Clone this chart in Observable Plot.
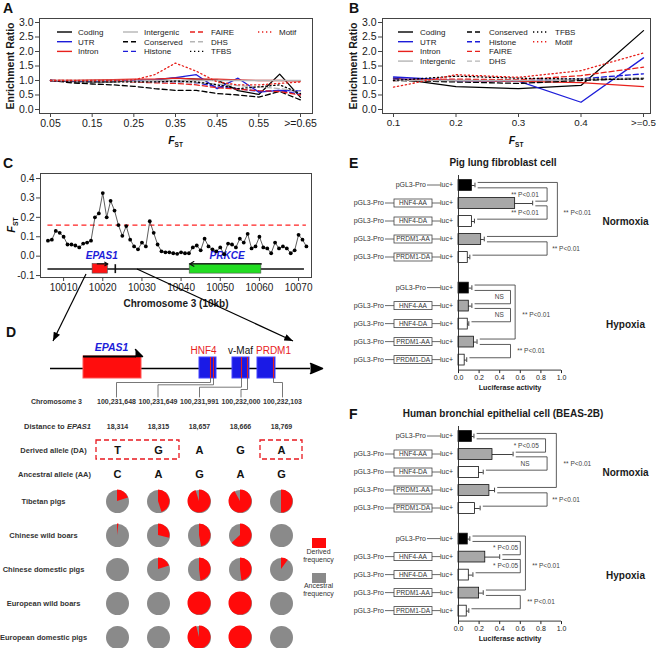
<!DOCTYPE html>
<html>
<head>
<meta charset="utf-8">
<script src="https://cdn.jsdelivr.net/npm/d3@7"></script>
<script src="https://cdn.jsdelivr.net/npm/@observablehq/plot@0.6"></script>
<style>
html,body{margin:0;padding:0;background:#fff;}
#root{position:relative;width:656px;height:648px;overflow:hidden;background:#fff;font-family:"Liberation Sans",Arial,sans-serif;}
.letter{position:absolute;font:bold 14px "Liberation Sans",Arial,sans-serif;color:#111;line-height:1;}
</style>
</head>
<body>
<div id="root"></div>
<script>
// ====================== DATA ======================
// Panels A and B: enrichment ratios by F_ST bin
const seriesNames = ["Coding","UTR","Intron","Intergenic","Conserved","Histone","FAIRE","DHS","TFBS","Motif"];

const fstBinsA = [0.05,0.10,0.15,0.20,0.25,0.30,0.35,0.40,0.45,0.50,0.55,0.60,0.65];
const fstTicksA = [0.05,0.15,0.25,0.35,0.45,0.55,0.65];
const fstTickLabelsA = ["0.05","0.15","0.25","0.35","0.45","0.55",">=0.65"];
const aCoding     = [1.00,0.97,0.95,0.95,1.00,1.03,1.08,1.05,1.02,0.65,0.52,1.22,0.42];
const aUTR        = [1.00,0.98,0.98,1.00,1.00,1.03,1.10,1.20,0.72,1.08,0.60,0.66,0.64];
const aIntron     = [1.00,1.00,1.02,1.03,1.05,1.05,1.08,1.05,1.05,1.02,1.00,1.00,0.98];
const aIntergenic = [1.00,1.00,1.00,1.00,1.00,1.00,1.00,1.00,1.00,1.00,1.00,1.00,1.00];
const aConserved  = [1.00,0.92,0.88,0.85,0.80,0.72,0.66,0.66,0.55,0.50,0.43,0.62,0.33];
const aHistone    = [1.00,0.98,0.97,1.00,0.98,0.95,0.95,0.92,0.78,0.72,0.62,0.66,0.52];
const aFAIRE      = [1.00,1.00,0.98,0.98,0.95,0.92,0.90,0.85,0.75,0.70,0.65,0.62,0.50];
const aDHS        = [1.00,0.98,0.98,0.98,0.97,0.95,0.95,0.92,0.88,0.82,0.78,0.72,0.62];
const aTFBS       = [1.00,0.95,0.95,0.95,0.95,0.95,0.98,0.95,0.85,0.72,0.78,0.85,0.55];
const aMotif      = [1.00,1.00,1.00,1.00,1.02,1.20,1.60,1.32,0.95,0.85,0.85,0.90,0.95];

const fstBinsB = [0.1,0.2,0.3,0.4,0.5];
const fstTicksB = [0.1,0.2,0.3,0.4,0.5];
const fstTickLabelsB = ["0.1","0.2","0.3","0.4",">=0.5"];
const bCoding     = [1.08,0.79,0.72,0.83,2.72];
const bUTR        = [1.12,1.00,0.98,0.25,1.78];
const bIntron     = [1.05,1.00,0.97,0.93,0.79];
const bIntergenic = [1.02,1.00,1.00,1.02,1.05];
const bConserved  = [1.00,0.95,0.90,1.00,1.08];
const bHistone    = [1.05,1.00,1.00,1.06,1.23];
const bFAIRE      = [1.00,1.05,1.02,1.17,1.46];
const bDHS        = [1.00,1.00,1.00,1.05,1.10];
const bTFBS       = [1.00,1.15,1.08,1.05,1.05];
const bMotif      = [0.77,1.20,1.11,1.34,1.95];

// Panel C: F_ST along chromosome 3 (10 kb windows)
const windowPos = [10006,10007,10008,10009,10010,10011,10012,10013,10014,10015,10016,10017,10018,10019,10020,10021,10022,10023,10024,10025,10026,10027,10028,10029,10030,10031,10032,10033,10034,10035,10036,10037,10038,10039,10040,10041,10042,10043,10044,10045,10046,10047,10048,10049,10050,10051,10052,10053,10054,10055,10056,10057,10058,10059,10060,10061,10062,10063,10064,10065,10066,10067,10068,10069,10070,10071,10072];
const windowFst = [0.080,0.085,0.130,0.120,0.100,0.060,0.060,0.055,0.045,0.065,0.070,0.080,0.200,0.220,0.325,0.200,0.285,0.235,0.160,0.105,0.155,0.085,0.050,0.035,0.070,0.050,0.180,0.120,0.060,0.025,0.020,0.020,0.015,0.012,0.020,0.015,0.015,0.045,0.055,0.030,0.090,0.050,0.035,0.025,0.045,0.010,0.065,0.060,0.045,0.090,0.070,0.115,0.040,0.050,0.100,0.045,0.040,0.015,0.070,0.040,0.050,0.040,0.015,0.030,0.110,0.085,0.050];
const fstThreshold = 0.16;
const chrTicks = [10010,10020,10030,10040,10050,10060,10070];
const geneNames = ["EPAS1","PRKCE"];
const geneStart = [10017.4,10042.2];
const geneEnd = [10021.3,10060.5];
const geneStrand = [1,-1];
const extraExon = [10023.2];

// Panel D: SNPs
const snpPositions = ["100,231,648","100,231,649","100,231,991","100,232,000","100,232,103"];
const distToEPAS1 = ["18,314","18,315","18,657","18,666","18,769"];
const derivedAllele = ["T","G","A","G","A"];
const ancestralAllele = ["C","A","G","A","G"];
const motifNames = ["HNF4","v-Maf","PRDM1"];
const populations = ["Tibetan pigs","Chinese wild boars","Chinese domestic pigs","European wild boars","European domestic pigs"];
const freqTibetan          = [0.20,0.45,0.95,0.92,0.50];
const freqChineseWild      = [0.02,0.29,0.47,0.63,0.00];
const freqChineseDomestic  = [0.00,0.20,0.48,0.48,0.10];
const freqEuropeanWild     = [0.00,0.00,1.00,1.00,0.00];
const freqEuropeanDomestic = [0.00,0.00,0.96,1.00,0.00];
const boxedSnpGroups = [[0,1],[4]];

// Panels E and F: luciferase activity
const constructs = ["pGL3-Pro","HNF4-AA","HNF4-DA","PRDM1-AA","PRDM1-DA"];
const pigNormMean = [0.13,0.55,0.13,0.22,0.09];
const pigNormErr  = [0.03,0.17,0.025,0.03,0.02];
const pigHypMean  = [0.10,0.10,0.09,0.15,0.06];
const pigHypErr   = [0.03,0.03,0.01,0.03,0.02];
const beasNormMean = [0.13,0.33,0.20,0.30,0.16];
const beasNormErr  = [0.02,0.20,0.04,0.05,0.05];
const beasHypMean  = [0.09,0.26,0.10,0.20,0.08];
const beasHypErr   = [0.02,0.14,0.04,0.04,0.02];
// brackets: rows compared (0-4 normoxia, 5-9 hypoxia), bracket x, label, label x, anchor
const pigBracketRows = [[0,1],[1,2],[0,3],[3,4],[5,6],[6,7],[5,8],[8,9]];
const pigBracketX = [0.86,0.86,0.96,0.86,0.505,0.505,0.55,0.505];
const pigBracketLabels = ["** P<0.01","** P<0.01","** P<0.01","** P<0.01","NS","NS","** P<0.01","** P<0.01"];
const pigLabelX = [0.78,0.78,1.02,0.91,0.44,0.44,0.62,0.57];
const pigLabelAnchor = ["end","end","start","start","end","end","start","start"];
const beasBracketRows = [[0,1],[1,2],[0,3],[3,4],[5,6],[6,7],[5,8],[8,9]];
const beasBracketX = [0.845,0.86,0.95,0.86,0.60,0.60,0.65,0.60];
const beasBracketLabels = ["* P<0.05","NS","** P<0.01","** P<0.01","* P<0.05","* P<0.05","** P<0.01","** P<0.01"];
const beasLabelX = [0.78,0.69,1.02,0.91,0.58,0.58,0.715,0.667];
const beasLabelAnchor = ["end","end","start","start","end","end","start","start"];

// ====================== STYLES / HELPERS ======================
const FONT = "Liberation Sans, Arial, sans-serif";
const baseStyle = {fontFamily: FONT, background: "transparent", overflow: "visible", color: "#1a1a1a"};
const RED = "#e8211c", BLUE = "#1c1cd9", GRAY = "#b5b5b5";
const lineStyles = {
  Coding: {stroke: "#000", dash: null}, UTR: {stroke: BLUE, dash: null},
  Intron: {stroke: RED, dash: null}, Intergenic: {stroke: GRAY, dash: null},
  Conserved: {stroke: "#000", dash: "5,3"}, Histone: {stroke: BLUE, dash: "5,3"},
  FAIRE: {stroke: RED, dash: "5,3"}, DHS: {stroke: GRAY, dash: "5,3"},
  TFBS: {stroke: "#000", dash: "1.3,2.7"}, Motif: {stroke: RED, dash: "1.3,2.7"}
};
const root = document.getElementById("root");
function place(node, left, top) {
  node.style.position = "absolute"; node.style.left = left + "px"; node.style.top = top + "px";
  root.appendChild(node);
}
function letter(ch, left, top) {
  const d = document.createElement("div"); d.className = "letter"; d.textContent = ch;
  d.style.left = left + "px"; d.style.top = top + "px"; root.appendChild(d);
}
function fstText(g, x, y, size, rotate) {
  const t = g.append("text")
    .attr("transform", `translate(${x},${y})` + (rotate ? " rotate(-90)" : ""))
    .attr("text-anchor", "middle").attr("font-weight", "bold").attr("font-size", size)
    .attr("font-family", FONT).attr("fill", "#111").attr("dy", "0.3em");
  t.append("tspan").attr("font-style", "italic").text("F");
  t.append("tspan").attr("font-size", size * 0.62).attr("dy", size * 0.28).text("ST");
}

// ====================== PANELS A & B ======================
function enrichmentPlot({bins, ticks, tickLabels, values, xDomain, width, marginLeft, marginRight, perCol, colX, textGap, xTickSize}) {
  const marks = [];
  seriesNames.forEach((name, k) => {
    const st = lineStyles[name];
    marks.push(Plot.line(bins.map((b, j) => ({x: b, y: values[k][j]})),
      {x: "x", y: "y", stroke: st.stroke, strokeWidth: 1.3, strokeDasharray: st.dash || undefined}));
  });
  marks.push(Plot.frame({stroke: "#444", strokeWidth: 1}));
  marks.push(Plot.axisX(ticks, {tickFormat: d => tickLabels[ticks.indexOf(d)], tickSize: 4, tickPadding: 2, fontSize: xTickSize, label: null, stroke: "#444"}));
  marks.push(Plot.axisY([0, 0.5, 1, 1.5, 2, 2.5, 3], {tickFormat: d => d.toFixed(1), tickSize: 4, tickPadding: 2, fontSize: 10.5, label: null, stroke: "#444"}));
  marks.push(Plot.text(["Enrichment Ratio"], {text: d => d, frameAnchor: "left", textAnchor: "middle", lineAnchor: "middle", rotate: -90, dx: -29, fontWeight: "bold", fontSize: 10.5}));
  marks.push((index, scales, vals, dims) => {
    const g = d3.create("svg:g");
    fstText(g, (dims.marginLeft + dims.width - dims.marginRight) / 2, dims.height - dims.marginBottom + 28, 10.5, false);
    return g.node();
  });
  marks.push((index, scales, vals, dims) => {
    const g = d3.create("svg:g").attr("font-size", 8).attr("font-family", FONT).attr("fill", "#1a1a1a").attr("text-anchor", "start");
    seriesNames.forEach((n, i) => {
      const c = Math.floor(i / perCol), r = i % perCol;
      const x = dims.marginLeft + colX[c], y = dims.marginTop + 14 + r * 9.7;
      const st = lineStyles[n];
      const ln = g.append("line").attr("x1", x).attr("x2", x + 15).attr("y1", y).attr("y2", y)
        .attr("stroke", st.stroke).attr("stroke-width", 1.4);
      if (st.dash) ln.attr("stroke-dasharray", st.dash);
      g.append("text").attr("x", x + textGap).attr("y", y).attr("dy", "0.35em").attr("text-anchor", "start").text(n);
    });
    return g.node();
  });
  return Plot.plot({
    width, height: 145, marginLeft, marginRight, marginTop: 18, marginBottom: 32,
    x: {domain: xDomain, axis: null, label: null},
    y: {domain: [-0.138, 3.138], axis: null, label: null},
    style: baseStyle, marks
  });
}
const valuesA = [aCoding, aUTR, aIntron, aIntergenic, aConserved, aHistone, aFAIRE, aDHS, aTFBS, aMotif];
const valuesB = [bCoding, bUTR, bIntron, bIntergenic, bConserved, bHistone, bFAIRE, bDHS, bTFBS, bMotif];
place(enrichmentPlot({bins: fstBinsA, ticks: fstTicksA, tickLabels: fstTickLabelsA, values: valuesA, xTickSize: 10.5,
  xDomain: [0.0236, 0.6788], width: 325, marginLeft: 39, marginRight: 13, perCol: 3, colX: [18, 84, 151, 219], textGap: 21}), 0, 0);
place(enrichmentPlot({bins: fstBinsB, ticks: fstTicksB, tickLabels: fstTickLabelsB, values: valuesB, xTickSize: 9.8,
  xDomain: [0.0824, 0.5112], width: 331, marginLeft: 57, marginRight: 6, perCol: 4, colX: [16, 85, 151], textGap: 22}), 325, 0);

// ====================== PANEL C ======================
{
  const windows = windowPos.map((p, i) => ({pos: p, fst: windowFst[i]}));
  const genes = geneNames.map((n, i) => ({name: n, start: geneStart[i], end: geneEnd[i], strand: geneStrand[i]}));
  const geneFill = {EPAS1: "#ff1414", PRKCE: "#22dd22"};
  const trackY = -0.066, boxTop = -0.040, boxBottom = -0.090;
  const plotC = Plot.plot({
    width: 325, height: 170, marginLeft: 40, marginRight: 14, marginTop: 33, marginBottom: 33,
    x: {domain: [10004.1, 10073.3], axis: null, label: null},
    y: {domain: [-0.110, 0.426], axis: null, label: null},
    color: {type: "identity"},
    style: baseStyle,
    marks: [
      Plot.frame({stroke: "#444"}),
      Plot.ruleY([fstThreshold], {y: d => d, x1: windowPos[0], x2: windowPos[windowPos.length - 1], stroke: "#f22", strokeWidth: 1.3, strokeDasharray: "5,3.5"}),
      Plot.ruleY([trackY], {y: d => d, x1: windowPos[0], x2: windowPos[windowPos.length - 2] + 0.5, stroke: "#111", strokeWidth: 1.4}),
      Plot.rect(genes, {x1: "start", x2: "end", y1: boxBottom, y2: boxTop, fill: d => geneFill[d.name], stroke: "#555", strokeWidth: 0.6}),
      Plot.ruleX(extraExon, {x: d => d, y1: boxBottom, y2: boxTop - 0.004, stroke: "#111", strokeWidth: 1.6}),
      Plot.arrow(genes, {x1: d => d.strand > 0 ? d.start + 1.2 : d.end, x2: d => d.strand > 0 ? d.end : d.start,
        y1: boxTop, y2: boxTop, stroke: "#111", strokeWidth: 1.2, headLength: 6}),
      Plot.text(genes, {x: d => (d.start + d.end) / 2 + 0.4, y: 0.004, text: "name", fill: BLUE, fontWeight: "bold", fontStyle: "italic", fontSize: 10}),
      Plot.line(windows, {x: "pos", y: "fst", stroke: "#333", strokeWidth: 0.8}),
      Plot.dot(windows, {x: "pos", y: "fst", r: 1.9, fill: "#000"}),
      Plot.axisX(chrTicks, {tickFormat: d => String(d), tickSize: 4, tickPadding: 2, fontSize: 10, label: null, stroke: "#444"}),
      Plot.axisY([-0.1, 0, 0.1, 0.2, 0.3, 0.4], {tickFormat: d => d.toFixed(1), tickSize: 4, tickPadding: 2, fontSize: 10, label: null, stroke: "#444"}),
      Plot.text(["Chromosome 3 (10kb)"], {text: d => d, frameAnchor: "bottom", textAnchor: "middle", lineAnchor: "middle", dy: 26, fontWeight: "bold", fontSize: 10}),
      (index, scales, vals, dims) => {
        const g = d3.create("svg:g");
        fstText(g, dims.marginLeft - 28, (dims.marginTop + dims.height - dims.marginBottom) / 2, 11, true);
        return g.node();
      }
    ]
  });
  place(plotC, 0, 140);
}

// ====================== PANEL D: schematic ======================
{
  // schematic (not-to-scale) geometry of the EPAS1 upstream region
  const mainLine = {x1: 50, x2: 310, tip: 322, y: 63};
  const epasBox = {x1: 83, x2: 141, y1: 51, y2: 73};
  const motifBoxes = [{name: "HNF4", x1: 199, x2: 216, lx: 203}, {name: "v-Maf", x1: 232, x2: 249, lx: 240}, {name: "PRDM1", x1: 257, x2: 275, lx: 273}];
  const motifColor = {"HNF4": "#e8211c", "v-Maf": "#111", "PRDM1": "#e8211c"};
  const snpX = [210, 213, 241, 247, 273];
  const snpLevel = [77, 79.3, 81.7, 84, 77];
  const colX = [116, 157.5, 199, 240.5, 282];
  const leaders = [];
  snpX.forEach((sx, i) => {
    leaders.push({k: i, x: sx, y: 73}, {k: i, x: sx, y: snpLevel[i]}, {k: i, x: colX[i], y: snpLevel[i]}, {k: i, x: colX[i], y: 91.5});
  });
  const plotD1 = Plot.plot({
    width: 325, height: 105, margin: 0,
    x: {domain: [0, 325], range: [0, 325], axis: null},
    y: {domain: [0, 105], range: [0, 105], axis: null},
    style: baseStyle,
    marks: [
      Plot.ruleY([mainLine], {y: "y", x1: "x1", x2: "x2", stroke: "#000", strokeWidth: 1.5}),
      Plot.line([[mainLine.x2, mainLine.y - 5], [mainLine.tip, mainLine.y], [mainLine.x2, mainLine.y + 5]], {x: d => d[0], y: d => d[1], fill: "#000", stroke: "#000"}),
      Plot.rect([epasBox], {x1: "x1", x2: "x2", y1: "y1", y2: "y2", fill: "#ff0d0d", stroke: "#ff5555"}),
      Plot.ruleY([epasBox], {y: "y1", x1: "x1", x2: d => d.x2 - 5, stroke: "#000", strokeWidth: 2}),
      Plot.line([[epasBox.x2 - 6, epasBox.y1 - 7], [epasBox.x2 + 1, epasBox.y1], [epasBox.x2 - 6, epasBox.y1]], {x: d => d[0], y: d => d[1], fill: "#000", stroke: "#000"}),
      Plot.text(["EPAS1"], {x: 111, y: 42.5, text: d => d, fill: BLUE, fontWeight: "bold", fontStyle: "italic", fontSize: 10.5}),
      Plot.rect(motifBoxes, {x1: "x1", x2: "x2", y1: 52, y2: 73, fill: "#1a1ae6", stroke: "#4444ff"}),
      Plot.ruleX(snpX, {x: d => d, y1: 52, y2: 73, stroke: "#e8211c", strokeWidth: 1.1}),
      Plot.text(motifBoxes, {x: "lx", y: 45, text: "name", fill: d => motifColor[d.name], fontSize: 10}),
      Plot.line(leaders, {x: "x", y: "y", z: "k", stroke: "#555", strokeWidth: 0.8}),
      Plot.text(snpPositions, {x: (d, i) => colX[i], y: 96, text: d => d, fontWeight: "bold", fontSize: 7, fill: "#333"}),
      Plot.text(["Chromosome 3"], {x: 56, y: 96, text: d => d, fontWeight: "bold", fontSize: 7, fill: "#333"})
    ]
  });
  place(plotD1, 0, 305);
}

// ====================== PANEL D: allele table ======================
{
  const rowKeys = ["distance", "derived", "ancestral"];
  const cells = snpPositions.map((s, i) => ({snp: s, dist: distToEPAS1[i], da: derivedAllele[i], aa: ancestralAllele[i]}));
  const plotD2 = Plot.plot({
    width: 325, height: 75, margin: 0,
    x: {type: "point", domain: snpPositions, range: [116, 282], padding: 0, axis: null},
    y: {type: "point", domain: rowKeys, range: [16, 64], padding: 0, axis: null},
    style: baseStyle,
    marks: [
      Plot.text(cells, {x: "snp", y: () => "distance", text: "dist", fontWeight: "bold", fontSize: 7, fill: "#333"}),
      Plot.text(cells, {x: "snp", y: () => "derived", text: "da", fontWeight: "bold", fontSize: 11, fill: "#111"}),
      Plot.text(cells, {x: "snp", y: () => "ancestral", text: "aa", fontWeight: "bold", fontSize: 11, fill: "#111"}),
      Plot.text(["Distance to"], {y: () => "distance", text: d => d, frameAnchor: "left", dx: 64, textAnchor: "end", lineAnchor: "middle", fontWeight: "bold", fontSize: 7.5, fill: "#333"}),
      Plot.text(["EPAS1"], {y: () => "distance", text: d => d, frameAnchor: "left", dx: 66.5, textAnchor: "start", lineAnchor: "middle", fontWeight: "bold", fontStyle: "italic", fontSize: 7.5, fill: "#333"}),
      Plot.text(["Derived allele (DA)"], {y: () => "derived", text: d => d, frameAnchor: "left", dx: 53, textAnchor: "middle", lineAnchor: "middle", fontWeight: "bold", fontSize: 7.5, fill: "#333"}),
      Plot.text(["Ancestral allele (AA)"], {y: () => "ancestral", text: d => d, frameAnchor: "left", dx: 54, textAnchor: "middle", lineAnchor: "middle", fontWeight: "bold", fontSize: 7.5, fill: "#333"}),
      (index, {x, y}) => {
        const g = d3.create("svg:g");
        boxedSnpGroups.forEach(grp => {
          const xa = x(snpPositions[grp[0]]) - 21, xb = x(snpPositions[grp[grp.length - 1]]) + 21, yy = y("derived");
          g.append("rect").attr("x", xa).attr("y", yy - 10).attr("width", xb - xa).attr("height", 19)
            .attr("fill", "none").attr("stroke", "#e8191f").attr("stroke-width", 1.3).attr("stroke-dasharray", "5,3");
        });
        return g.node();
      }
    ]
  });
  place(plotD2, 0, 410);
}

// ====================== PANEL D: pies ======================
{
  const freqs = [freqTibetan, freqChineseWild, freqChineseDomestic, freqEuropeanWild, freqEuropeanDomestic];
  const pieData = [];
  populations.forEach((p, i) => snpPositions.forEach((s, j) => pieData.push({pop: p, snp: s, f: freqs[i][j]})));
  const PIE_GRAY = "#8a8a8a", PIE_RED = "#ff0a0a";
  const R = 11.5;
  const plotD3 = Plot.plot({
    width: 345, height: 163, margin: 0,
    x: {type: "point", domain: snpPositions, range: [116, 282], padding: 0, axis: null},
    y: {type: "point", domain: populations, range: [16, 152], padding: 0, axis: null},
    style: baseStyle,
    marks: [
      Plot.dot(pieData, {x: "snp", y: "pop", r: R, fill: PIE_GRAY}),
      (index, {x, y}) => {
        const g = d3.create("svg:g");
        const arc = d3.arc().innerRadius(0).outerRadius(R);
        pieData.forEach(d => {
          if (d.f <= 0) return;
          g.append("path").attr("transform", `translate(${x(d.snp)},${y(d.pop)})`)
            .attr("d", arc({startAngle: 0, endAngle: 2 * Math.PI * d.f})).attr("fill", PIE_RED);
        });
        return g.node();
      },
      Plot.text(populations, {y: d => d, text: d => d, frameAnchor: "left", dx: 43, textAnchor: "middle", lineAnchor: "middle", fontWeight: "bold", fontSize: 7.5, fill: "#333"}),
      () => {
        const g = d3.create("svg:g").attr("font-size", 7).attr("font-family", FONT).attr("fill", "#333").attr("text-anchor", "middle");
        g.append("rect").attr("x", 312).attr("y", 53).attr("width", 14).attr("height", 10).attr("fill", PIE_RED);
        g.append("text").attr("x", 318.5).attr("y", 67).attr("dy", "0.35em").text("Derived");
        g.append("text").attr("x", 318.5).attr("y", 74.5).attr("dy", "0.35em").text("frequency");
        g.append("rect").attr("x", 312).attr("y", 88).attr("width", 14).attr("height", 10).attr("fill", PIE_GRAY);
        g.append("text").attr("x", 318.5).attr("y", 101).attr("dy", "0.35em").text("Ancestral");
        g.append("text").attr("x", 318.5).attr("y", 108.5).attr("dy", "0.35em").text("frequency");
        return g.node();
      }
    ]
  });
  place(plotD3, 0, 485);
}

// ====================== PANELS E & F ======================
function lucPlot({title, normMean, normErr, hypMean, hypErr, bRows, bX, bLabels, bLabelX, bAnchor, height, rowTop}) {
  const hypOffset = 5.7, step = 18, lastPos = hypOffset + 4;
  const rows = [];
  constructs.forEach((c, i) => rows.push({cond: "Normoxia", construct: c, pos: i, mean: normMean[i], err: normErr[i]}));
  constructs.forEach((c, i) => rows.push({cond: "Hypoxia", construct: c, pos: hypOffset + i, mean: hypMean[i], err: hypErr[i]}));
  const endX = k => rows[k].mean + rows[k].err + 0.03;
  const paths = [], labels = [];
  bRows.forEach(([a, b], k) => {
    const outer = b - a > 1;
    const ya = rows[a].pos + (outer ? -0.17 : 0.13);
    const yb = rows[b].pos + (outer ? -0.17 : -0.13);
    paths.push({k, x: endX(a), y: ya}, {k, x: bX[k], y: ya}, {k, x: bX[k], y: yb}, {k, x: endX(b), y: yb});
    labels.push({t: bLabels[k], x: bLabelX[k], y: (rows[a].pos + rows[b].pos) / 2, anchor: bAnchor[k]});
  });
  const barFill = {"pGL3-Pro": "#000", "HNF4-AA": "#a8a8a8", "HNF4-DA": "#fff", "PRDM1-AA": "#a8a8a8", "PRDM1-DA": "#fff"};
  const axisPx = rowTop + step * lastPos + 10.5;
  return Plot.plot({
    width: 331, height, marginLeft: 133, marginRight: 95, marginTop: rowTop - 10, marginBottom: height - axisPx,
    x: {domain: [0, 1], axis: null, label: null},
    y: {domain: [0, lastPos], range: [rowTop, rowTop + step * lastPos], axis: null, label: null},
    color: {type: "identity"},
    style: baseStyle,
    marks: [
      Plot.rect(rows, {x1: 0, x2: "mean", y1: d => d.pos - 0.3, y2: d => d.pos + 0.3, fill: d => barFill[d.construct], stroke: "#111", strokeWidth: 0.8}),
      Plot.ruleY(rows, {y: "pos", x1: "mean", x2: d => d.mean + d.err, stroke: "#111", strokeWidth: 0.8}),
      Plot.ruleX(rows, {x: d => d.mean + d.err, y1: d => d.pos - 0.13, y2: d => d.pos + 0.13, stroke: "#111", strokeWidth: 0.8}),
      Plot.line(paths, {x: "x", y: "y", z: "k", stroke: "#333", strokeWidth: 0.8}),
      Plot.text(labels.filter(d => d.anchor === "end"), {x: "x", y: "y", text: "t", textAnchor: "end", fontSize: 6.5, fill: "#444"}),
      Plot.text(labels.filter(d => d.anchor === "start"), {x: "x", y: "y", text: "t", textAnchor: "start", fontSize: 6.5, fill: "#444"}),
      Plot.ruleX([0], {x: d => d, stroke: "#222", strokeWidth: 0.9}),
      (index, scales, vals, dims) => {
        const yb = dims.height - dims.marginBottom;
        return d3.create("svg:line").attr("x1", scales.x(0)).attr("x2", scales.x(1)).attr("y1", yb).attr("y2", yb)
          .attr("stroke", "#222").attr("stroke-width", 0.9).node();
      },
      Plot.axisX([0, 0.2, 0.4, 0.6, 0.8, 1.0], {tickFormat: d => d.toFixed(1), tickSize: 3, tickPadding: 1.5, fontSize: 7, label: null, stroke: "#222"}),
      Plot.text(["Luciferase activity"], {x: 0.5, text: d => d, frameAnchor: "bottom", textAnchor: "middle", lineAnchor: "middle", dy: 17.5, fontWeight: "bold", fontSize: 7.2}),
      Plot.text([title], {text: d => d, frameAnchor: "top", textAnchor: "middle", lineAnchor: "middle", dx: -7, dy: -12.5, fontWeight: "bold", fontSize: 10}),
      Plot.text([{t: "Normoxia", pos: 2}, {t: "Hypoxia", pos: hypOffset + 2.05}], {y: "pos", text: "t", frameAnchor: "right", textAnchor: "middle", lineAnchor: "middle", dx: 64, fontWeight: "bold", fontSize: 10}),
      (index, {x, y}) => {
        const g = d3.create("svg:g").attr("font-size", 7).attr("font-family", FONT).attr("fill", "#333");
        const x0 = x(0);
        const seg = (a, b, yy) => g.append("line").attr("x1", a).attr("x2", b).attr("y1", yy).attr("y2", yy).attr("stroke", "#444").attr("stroke-width", 0.8);
        rows.forEach(r => {
          const yy = y(r.pos);
          g.append("text").attr("x", x0 - 5).attr("y", yy).attr("dy", "0.35em").attr("text-anchor", "end").text("luc+");
          if (r.construct === "pGL3-Pro") {
            seg(x0 - 31, x0 - 17.5, yy);
            g.append("text").attr("x", x0 - 32).attr("y", yy).attr("dy", "0.35em").attr("text-anchor", "end").text("pGL3-Pro");
          } else {
            seg(x0 - 26, x0 - 17.5, yy);
            g.append("rect").attr("x", x0 - 64).attr("y", yy - 4).attr("width", 38).attr("height", 8)
              .attr("fill", "#fff").attr("stroke", "#444").attr("stroke-width", 0.8);
            g.append("text").attr("x", x0 - 45).attr("y", yy).attr("dy", "0.35em").attr("text-anchor", "middle").attr("font-size", 6.5).text(r.construct);
            seg(x0 - 73, x0 - 64, yy);
            g.append("text").attr("x", x0 - 74).attr("y", yy).attr("dy", "0.35em").attr("text-anchor", "end").text("pGL3-Pro");
          }
        });
        return g.node();
      }
    ]
  });
}
place(lucPlot({title: "Pig lung fibroblast cell", normMean: pigNormMean, normErr: pigNormErr, hypMean: pigHypMean, hypErr: pigHypErr,
  bRows: pigBracketRows, bX: pigBracketX, bLabels: pigBracketLabels, bLabelX: pigLabelX, bAnchor: pigLabelAnchor, height: 255, rowTop: 45}), 325, 140);
place(lucPlot({title: "Human bronchial epithelial cell (BEAS-2B)", normMean: beasNormMean, normErr: beasNormErr, hypMean: beasHypMean, hypErr: beasHypErr,
  bRows: beasBracketRows, bX: beasBracketX, bLabels: beasBracketLabels, bLabelX: beasLabelX, bAnchor: beasLabelAnchor, height: 248, rowTop: 36}), 325, 400);

// ====================== connector arrows C -> D ======================
{
  const ov = d3.create("svg").attr("width", 656).attr("height", 648)
    .style("position", "absolute").style("left", "0px").style("top", "0px").style("pointer-events", "none");
  ov.append("defs").append("marker").attr("id", "ah").attr("viewBox", "0 0 10 8").attr("refX", 10).attr("refY", 4)
    .attr("markerWidth", 9).attr("markerHeight", 7).attr("markerUnits", "userSpaceOnUse").attr("orient", "auto")
    .append("path").attr("d", "M0,0L10,4L0,8z").attr("fill", "#000");
  ov.append("line").attr("x1", 86).attr("y1", 274).attr("x2", 53).attr("y2", 341).attr("stroke", "#000").attr("stroke-width", 1.2).attr("marker-end", "url(#ah)");
  ov.append("line").attr("x1", 137).attr("y1", 269).attr("x2", 293).attr("y2", 341).attr("stroke", "#000").attr("stroke-width", 1.2).attr("marker-end", "url(#ah)");
  root.appendChild(ov.node());
}

// panel letters
letter("A", 3, 1); letter("B", 349, 1); letter("C", 3, 156); letter("D", 6, 325); letter("E", 349, 156); letter("F", 349, 407);
</script>
</body>
</html>
